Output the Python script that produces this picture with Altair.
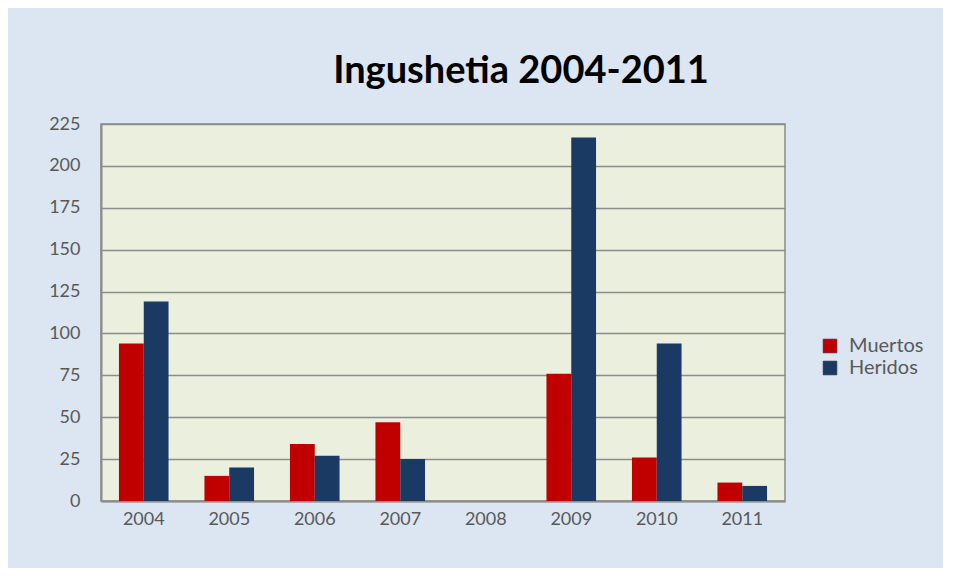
import altair as alt
import pandas as pd

years = ["2004", "2005", "2006", "2007", "2008", "2009", "2010", "2011"]
muertos = [94, 15, 34, 47, 0, 76, 26, 11]
heridos = [119, 20, 27, 25, 0, 217, 94, 9]
series = ["Muertos", "Heridos"]
colors = ["#c00000", "#1b3a63"]
y_ticks = [0, 25, 50, 75, 100, 125, 150, 175, 200, 225]

rows = []
for y, m, h in zip(years, muertos, heridos):
    rows.append({"Año": y, "Serie": "Muertos", "Valor": m})
    rows.append({"Año": y, "Serie": "Heridos", "Valor": h})
df = pd.DataFrame(rows)

font = "Lato"
chart = (
    alt.Chart(df)
    .mark_bar()
    .encode(
        x=alt.X("Año:N", sort=years, title=None,
                scale=alt.Scale(paddingInner=0.42, paddingOuter=0.21),
                axis=alt.Axis(labelAngle=0, labelFontSize=18, labelColor="#595959",
                              labelFont=font, labelPadding=9, ticks=False,
                              domain=True, domainColor="#8c8c8c", domainWidth=2, grid=False)),
        xOffset=alt.XOffset("Serie:N", sort=series),
        y=alt.Y("Valor:Q", title=None,
                scale=alt.Scale(domain=[0, 225], nice=False),
                axis=alt.Axis(values=y_ticks, labelFontSize=18, labelColor="#595959",
                              labelFont=font, labelPadding=21, ticks=False,
                              domain=True, domainColor="#8c8c8c", domainWidth=2,
                              grid=True, gridColor="#8c8c8c", gridWidth=1.5)),
        color=alt.Color("Serie:N", sort=series,
                        scale=alt.Scale(domain=series, range=colors),
                        legend=alt.Legend(title=None, orient="none", legendX=719, legendY=212,
                                          symbolType="square", symbolSize=190,
                                          symbolStrokeColor="#333333", symbolStrokeWidth=0.6,
                                          labelFontSize=20, labelColor="#595959", labelFont=font,
                                          rowPadding=2, labelOffset=9)),
    )
    .properties(
        width=684,
        height=377,
        title=alt.TitleParams("Ingushetia 2004-2011", fontSize=38, font=font,
                              fontWeight="bold", color="#000000", anchor="middle",
                              dx=78, offset=24),
        background="#dce6f2",
        padding={"left": 93, "top": 116, "right": 158, "bottom": 67},
        autosize=alt.AutoSizeParams(type="none"),
    )
    .configure_view(fill="#ebefdd", stroke="#8c8c8c", strokeWidth=1.5)
)

chart.save("out.html", embed_options={"renderer": "svg", "actions": False})
